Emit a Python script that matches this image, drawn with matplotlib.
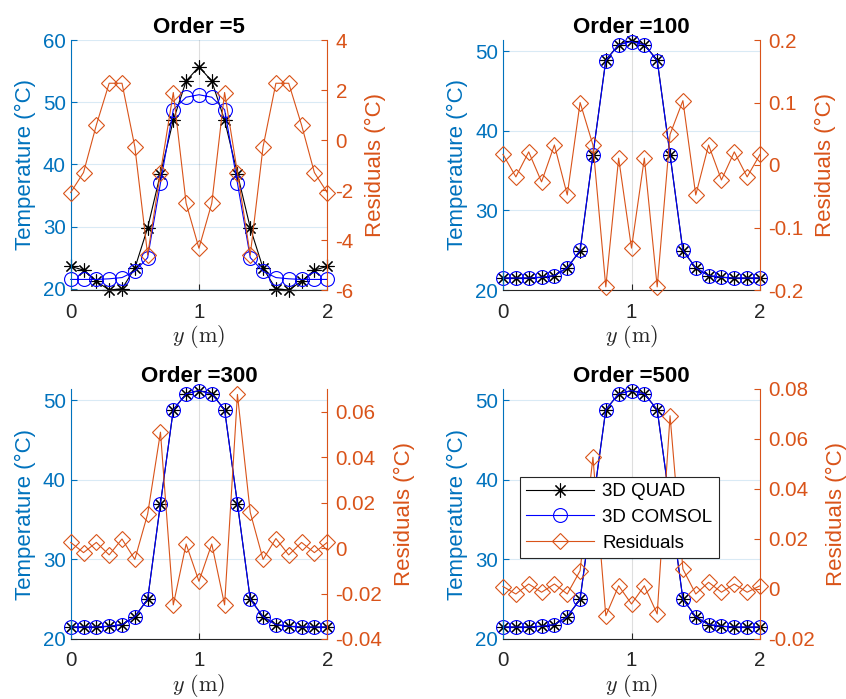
"""Temperature profiles (3D QUAD vs 3D COMSOL) and residuals for several orders."""
import matplotlib
matplotlib.use("Agg")
import matplotlib.pyplot as plt

plt.rcParams["font.family"] = ["Liberation Sans", "DejaVu Sans"]
plt.rcParams["mathtext.fontset"] = "cm"
plt.rcParams["axes.unicode_minus"] = False

# position along y (m)
y_pos = [0.0, 0.1, 0.2, 0.3, 0.4, 0.5, 0.6, 0.7, 0.8, 0.9, 1.0,
         1.1, 1.2, 1.3, 1.4, 1.5, 1.6, 1.7, 1.8, 1.9, 2.0]

comsol_temp = [21.5, 21.5, 21.5, 21.6, 21.8, 22.8, 25.0, 37.0, 48.8, 50.8, 51.2,
               50.8, 48.8, 37.0, 25.0, 22.8, 21.8, 21.6, 21.5, 21.5, 21.5]

quad_temp_5 = [23.6, 23.0, 21.2, 19.8, 20.0, 23.3, 29.8, 38.5, 47.1, 53.4, 55.7,
               53.4, 47.1, 38.5, 29.8, 23.3, 20.0, 19.8, 21.2, 23.0, 23.6]
quad_temp_100 = [21.5, 21.5, 21.5, 21.6, 21.8, 22.8, 24.9, 37.0, 48.9, 50.8, 51.3,
                 50.8, 48.9, 37.0, 24.9, 22.8, 21.8, 21.6, 21.5, 21.5, 21.5]
quad_temp_300 = [21.5, 21.5, 21.5, 21.6, 21.8, 22.8, 25.0, 37.0, 48.8, 50.8, 51.2,
                 50.8, 48.8, 37.0, 25.0, 22.8, 21.8, 21.6, 21.5, 21.5, 21.5]
quad_temp_500 = [21.5, 21.5, 21.5, 21.6, 21.8, 22.8, 25.0, 37.0, 48.8, 50.8, 51.2,
                 50.8, 48.8, 37.0, 25.0, 22.8, 21.8, 21.6, 21.5, 21.5, 21.5]

resid_5 = [-2.1, -1.3, 0.6, 2.27, 2.27, -0.27, -4.6, -1.3, 1.9, -2.53, -4.33,
           -2.53, 1.9, -1.3, -4.6, -0.27, 2.27, 2.27, 0.6, -1.3, -2.1]
resid_100 = [0.017, -0.019, 0.021, -0.027, 0.032, -0.048, 0.100, 0.032, -0.195, 0.011, -0.133,
             0.011, -0.195, 0.049, 0.103, -0.048, 0.032, -0.024, 0.021, -0.019, 0.017]
resid_300 = [0.0025, -0.002, 0.0025, -0.003, 0.004, -0.005, 0.015, 0.051, -0.025, 0.0018, -0.0146,
             0.0018, -0.025, 0.0676, 0.0157, -0.005, 0.0042, -0.003, 0.0025, -0.002, 0.0025]
resid_500 = [0.001, -0.002, 0.002, -0.0013, 0.002, -0.002, 0.0073, 0.0527, -0.0107, 0.0013, -0.006,
             0.0013, -0.010, 0.0693, 0.008, -0.002, 0.0027, -0.0013, 0.002, -0.0013, 0.0013]

orders = [5, 100, 300, 500]
quad_series = [quad_temp_5, quad_temp_100, quad_temp_300, quad_temp_500]
resid_series = [resid_5, resid_100, resid_300, resid_500]

temp_ticks = [[20, 30, 40, 50, 60], [20, 30, 40, 50], [20, 30, 40, 50], [20, 30, 40, 50]]
temp_lims = [(19.8, 60), (20, 51.4), (20, 51.4), (20, 51.4)]
resid_ticks = [
    ([-6, -4, -2, 0, 2, 4], ["-6", "-4", "-2", "0", "2", "4"]),
    ([-0.2, -0.1, 0, 0.1, 0.2], ["-0.2", "-0.1", "0", "0.1", "0.2"]),
    ([-0.04, -0.02, 0, 0.02, 0.04, 0.06], ["-0.04", "-0.02", "0", "0.02", "0.04", "0.06"]),
    ([-0.02, 0, 0.02, 0.04, 0.06, 0.08], ["-0.02", "0", "0.02", "0.04", "0.06", "0.08"]),
]
resid_lims = [(-6, 4), (-0.2, 0.2), (-0.04, 0.07), (-0.02, 0.08)]

BLUE_AX = "#0072BD"
ORANGE = "#D95319"
DARK = "#262626"
ASTERISK = (8, 2, 0)

W, H = 846, 699
fig = plt.figure(figsize=(W / 100, H / 100), dpi=100)
fig.patch.set_facecolor("white")

# axes boxes in pixels: (left, top, width, height)
boxes = [(70.7, 40, 256.5, 250), (503, 40, 257, 250),
         (70.7, 389, 256.5, 250), (503, 389, 257, 250)]

for i, order in enumerate(orders):
    left, top, w, h = boxes[i]
    ax = fig.add_axes([left / W, (H - top - h) / H, w / W, h / H])
    ax2 = ax.twinx()

    l_quad, = ax.plot(y_pos, quad_series[i], color="black", lw=0.8,
                      marker=ASTERISK, ms=10, mew=0.8, label="3D QUAD", clip_on=False)
    l_com, = ax.plot(y_pos, comsol_temp, color="blue", lw=0.8, marker="o",
                     ms=10, mfc="none", mew=0.8, label="3D COMSOL", clip_on=False)
    l_res, = ax2.plot(y_pos, resid_series[i], color=ORANGE, lw=0.8, marker="D",
                      ms=8.5, mfc="none", mew=0.8, label="Residuals", clip_on=False)

    ax.set_xlim(0, 2)
    ax.set_xticks([0, 1, 2])
    ax.set_ylim(*temp_lims[i])
    ax.set_yticks(temp_ticks[i])
    ax2.set_ylim(*resid_lims[i])
    ax2.set_yticks(resid_ticks[i][0], resid_ticks[i][1])

    ax.xaxis.grid(True, color=DARK, alpha=0.15, lw=0.8)
    ax.yaxis.grid(True, color=BLUE_AX, alpha=0.15, lw=0.8)
    ax.set_axisbelow(True)

    for s in ("top", "right"):
        ax.spines[s].set_visible(False)
    for s in ("top", "left", "bottom"):
        ax2.spines[s].set_visible(False)
    ax.spines["left"].set_color(BLUE_AX)
    ax.spines["bottom"].set_color(DARK)
    ax2.spines["right"].set_color(ORANGE)
    for sp in list(ax.spines.values()) + list(ax2.spines.values()):
        sp.set_linewidth(0.8)

    ax.tick_params(axis="x", direction="in", colors=DARK, labelsize=14.8, length=4, width=0.8, pad=9)
    ax.tick_params(axis="y", direction="in", colors=BLUE_AX, labelsize=14.8, length=4, width=0.8)
    ax2.tick_params(axis="y", direction="in", colors=ORANGE, labelsize=14.8, length=4, width=0.8, pad=6)

    ax.set_ylabel("Temperature (°C)", color=BLUE_AX, fontsize=16, labelpad=5)
    ax2.set_ylabel("Residuals (°C)", color=ORANGE, fontsize=16, labelpad=8)
    ax.set_xlabel(r"$y\ (\mathrm{m})$", color=DARK, fontsize=16, labelpad=1)
    ax.set_title(f"Order ={order}", fontsize=16, fontweight="bold", pad=5)

    if i == 3:
        leg = ax2.legend([l_quad, l_com, l_res],
                         ["3D QUAD", "3D COMSOL", "Residuals"],
                         loc="upper left", bbox_to_anchor=(0.065, 0.649),
                         borderaxespad=0, fontsize=13.5, handlelength=3.6,
                         handletextpad=0.45, fancybox=False, framealpha=1,
                         edgecolor=DARK, borderpad=0.35, labelspacing=0.45)
        leg.get_frame().set_linewidth(0.8)

fig.savefig("out.png", dpi=100, facecolor=fig.get_facecolor())
plt.close(fig)
